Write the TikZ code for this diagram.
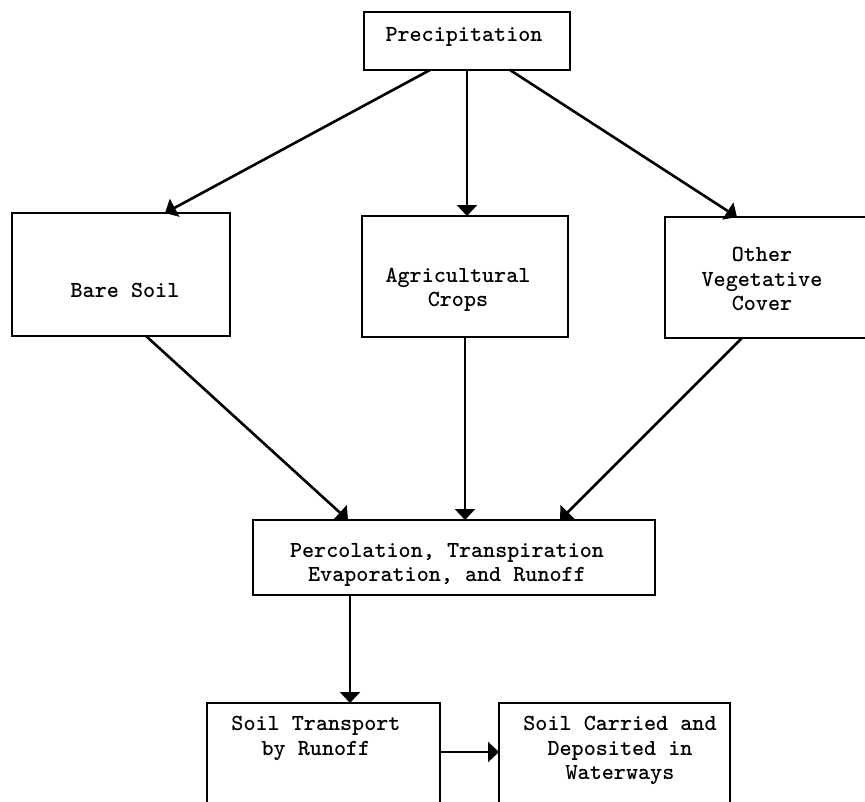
\documentclass[tikz,border=0pt]{standalone}
\usetikzlibrary{arrows.meta}
\begin{document}
\begin{tikzpicture}[x=1pt,y=-1pt,
  boxnode/.style={draw,line width=2pt,inner sep=0pt,outer sep=0pt},
  lbl/.style={font=\ttfamily\bfseries\fontsize{23}{24.5}\selectfont,align=center,inner sep=0pt},
  arr/.style={line width=2.6pt,-{Triangle[width=20pt,length=11pt]}}]
\useasboundingbox (0,0) rectangle (865,801);
\clip (0,0) rectangle (865,801);
% boxes
\node[boxnode,minimum width=206pt,minimum height=58pt] (precip) at (467,41) {};
\node[boxnode,minimum width=218pt,minimum height=123pt] (bare) at (121,274.5) {};
\node[boxnode,minimum width=206pt,minimum height=121pt] (crops) at (465,276.5) {};
\node[boxnode,minimum width=210pt,minimum height=121pt] (other) at (770,277.5) {};
\node[boxnode,minimum width=402pt,minimum height=75pt] (perc) at (454,557.5) {};
\node[boxnode,minimum width=233pt,minimum height=127pt] (transport) at (323.5,766.5) {};
\node[boxnode,minimum width=231pt,minimum height=127pt] (carried) at (614.5,766.5) {};
% texts
\node[lbl] (precipt) at (464,37) {Precipitation};
\node[lbl] (baret) at (125,290) {Bare Soil};
\node[lbl] (cropst) at (458,290) {Agricultural\\Crops};
\node[lbl] (othert) at (762,279) {Other\\Vegetative\\Cover};
\node[lbl] (perct) at (447,565) {Percolation, Transpiration\\Evaporation, and Runoff};
\node[lbl,anchor=north] (transportt) at (316,716) {Soil Transport\\by Runoff};
\node[lbl,anchor=north] (carriedt) at (620,716) {Soil Carried and\\Deposited in\\ Waterways};
% connectors
\draw[arr] ([xshift=-37pt]precip.south) -- ([xshift=153pt]bare.north west);
\draw[arr] (precip.south) -- (precip.south |- crops.north);
\draw[arr] ([xshift=43pt]precip.south) -- ([xshift=72pt]other.north west);
\draw[arr] ([xshift=134pt]bare.south west) -- ([xshift=95pt]perc.north west);
\draw[arr] (crops.south) -- (crops.south |- perc.north);
\draw[arr] ([xshift=77pt]other.south west) -- ([xshift=307pt]perc.north west);
\draw[arr] ([xshift=97pt]perc.south west) -- ([xshift=97pt]perc.south west |- transport.north);
\draw[arr] ([yshift=14.5pt]transport.east) -- ([yshift=14.5pt]carried.west);
\end{tikzpicture}
\end{document}
